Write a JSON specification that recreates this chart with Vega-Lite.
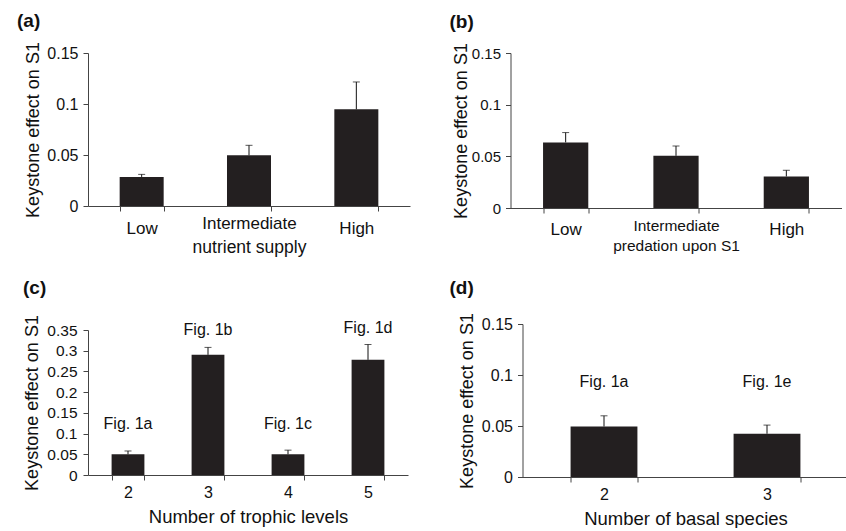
{
  "$schema": "https://vega.github.io/schema/vega-lite/v6.json",
  "padding": {"left": 16, "top": 11, "right": 0, "bottom": 0},
  "background": "white",
  "config": {
    "font": "Liberation Sans",
    "view": {"stroke": null},
    "axis": {"grid": false, "domainColor": "#444", "tickColor": "#444", "labelColor": "#111", "titleColor": "#111", "titleFontWeight": "normal", "labelFont": "Liberation Sans", "titleFont": "Liberation Sans", "tickSize": 5},
    "title": {"font": "Liberation Sans", "fontWeight": "bold", "fontSize": 19, "anchor": "start", "frame": "bounds", "color": "#111"},
    "bar": {"color": "#231f20"},
    "rule": {"color": "#111"},
    "tick": {"color": "#111"}
  },
  "columns": 2,
  "align": "none",
  "spacing": {"row": 22, "column": 38.5},
  "concat": [
    {
      "width": 322, "height": 153,
      "title": {"text": "(a)", "offset": 11, "dx": -7},
      "data": {"values": [
        {"level": "Low", "value": 0.0285, "err": 0.031},
        {"level": "Intermediate", "value": 0.0497, "err": 0.0595},
        {"level": "High", "value": 0.0948, "err": 0.1216}
      ]},
      "encoding": {
        "x": {"field": "level", "type": "nominal", "sort": null,
          "scale": {"paddingInner": 0.59, "paddingOuter": 0.295},
          "axis": {"title": "nutrient supply", "labelAngle": 0, "tickBand": "extent", "labelFontSize": 17,
            "labelPadding": {"condition": {"test": "datum.value === 'Intermediate'", "value": 4}, "value": 9},
            "titleFontSize": 17.5, "titlePadding": 2}},
        "y": {"field": "value", "type": "quantitative", "title": "Keystone effect on S1",
          "scale": {"domain": [0, 0.15], "nice": false},
          "axis": {"values": [0, 0.05, 0.1, 0.15], "format": ".2~f", "labelFontSize": 16, "labelPadding": 5, "titleFontSize": 18, "titleX": -64, "titleBaseline": "top"}}
      },
      "layer": [
        {"mark": "bar"},
        {"mark": {"type": "rule", "strokeWidth": 1}, "encoding": {"y2": {"field": "err"}}},
        {"mark": {"type": "tick", "size": 7, "thickness": 1}, "encoding": {"y": {"field": "err", "type": "quantitative", "title": "Keystone effect on S1"}}}
      ]
    },
    {
      "width": 331, "height": 155,
      "title": {"text": "(b)", "offset": 11, "dx": -3},
      "data": {"values": [
        {"level": "Low", "value": 0.0635, "err": 0.073},
        {"level": "Intermediate", "value": 0.0505, "err": 0.06},
        {"level": "High", "value": 0.0305, "err": 0.0365}
      ]},
      "encoding": {
        "x": {"field": "level", "type": "nominal", "sort": null,
          "scale": {"paddingInner": 0.59, "paddingOuter": 0.295},
          "axis": {"title": "predation upon S1", "labelAngle": 0, "tickBand": "extent",
            "labelFontSize": {"condition": {"test": "datum.value === 'Intermediate'", "value": 15.5}, "value": 17},
            "labelPadding": {"condition": {"test": "datum.value === 'Intermediate'", "value": 5}, "value": 8},
            "titleFontSize": 15.5, "titlePadding": 1}},
        "y": {"field": "value", "type": "quantitative", "title": "Keystone effect on S1",
          "scale": {"domain": [0, 0.15], "nice": false},
          "axis": {"values": [0, 0.05, 0.1, 0.15], "format": ".2~f", "labelFontSize": 15, "labelPadding": 5, "titleFontSize": 18, "titleX": -58, "titleBaseline": "top"}}
      },
      "layer": [
        {"mark": "bar"},
        {"mark": {"type": "rule", "strokeWidth": 1}, "encoding": {"y2": {"field": "err"}}},
        {"mark": {"type": "tick", "size": 7, "thickness": 1}, "encoding": {"y": {"field": "err", "type": "quantitative", "title": "Keystone effect on S1"}}}
      ]
    },
    {
      "width": 320, "height": 153,
      "title": {"text": "(c)", "offset": 17},
      "data": {"values": [
        {"levels": "2", "value": 0.05, "err": 0.058, "note": "Fig. 1a", "note_at": 0.124},
        {"levels": "3", "value": 0.29, "err": 0.308, "note": "Fig. 1b", "note_at": 0.35},
        {"levels": "4", "value": 0.05, "err": 0.06, "note": "Fig. 1c", "note_at": 0.124},
        {"levels": "5", "value": 0.278, "err": 0.315, "note": "Fig. 1d", "note_at": 0.356}
      ]},
      "encoding": {
        "x": {"field": "levels", "type": "ordinal", "sort": null,
          "scale": {"paddingInner": 0.59, "paddingOuter": 0.295},
          "axis": {"title": "Number of trophic levels", "labelAngle": 0, "tickBand": "extent", "labelFontSize": 16, "labelPadding": 4, "titleFontSize": 18.5, "titlePadding": 7}},
        "y": {"field": "value", "type": "quantitative", "title": "Keystone effect on S1",
          "scale": {"domain": [0, 0.35], "nice": false, "range": [153, 8]},
          "axis": {"values": [0, 0.05, 0.1, 0.15, 0.2, 0.25, 0.3, 0.35], "format": ".2~f", "labelFontSize": 15.5, "labelPadding": 6, "titleFontSize": 18, "titleX": -65, "titleBaseline": "top"}}
      },
      "layer": [
        {"mark": "bar"},
        {"mark": {"type": "rule", "strokeWidth": 1}, "encoding": {"y2": {"field": "err"}}},
        {"mark": {"type": "tick", "size": 7, "thickness": 1}, "encoding": {"y": {"field": "err", "type": "quantitative", "title": "Keystone effect on S1"}}},
        {"mark": {"type": "text", "fontSize": 16, "color": "#111", "baseline": "middle", "clip": false}, "encoding": {"y": {"field": "note_at", "type": "quantitative", "title": "Keystone effect on S1"}, "text": {"field": "note"}}}
      ]
    },
    {
      "width": 326, "height": 153,
      "title": {"text": "(d)", "offset": 15, "dx": -9},
      "data": {"values": [
        {"species": "2", "value": 0.0495, "err": 0.06, "note": "Fig. 1a", "note_at": 0.093},
        {"species": "3", "value": 0.0424, "err": 0.0509, "note": "Fig. 1e", "note_at": 0.093}
      ]},
      "encoding": {
        "x": {"field": "species", "type": "ordinal", "sort": null,
          "scale": {"paddingInner": 0.59, "paddingOuter": 0.295},
          "axis": {"title": "Number of basal species", "labelAngle": 0, "tickBand": "extent", "labelFontSize": 16, "labelPadding": 4, "titleFontSize": 18.5, "titlePadding": 7}},
        "y": {"field": "value", "type": "quantitative", "title": "Keystone effect on S1",
          "scale": {"domain": [0, 0.15], "nice": false},
          "axis": {"values": [0, 0.05, 0.1, 0.15], "format": ".2~f", "labelFontSize": 16, "labelPadding": 5, "titleFontSize": 18, "titleX": -64, "titleBaseline": "top"}}
      },
      "layer": [
        {"mark": "bar"},
        {"mark": {"type": "rule", "strokeWidth": 1}, "encoding": {"y2": {"field": "err"}}},
        {"mark": {"type": "tick", "size": 7, "thickness": 1}, "encoding": {"y": {"field": "err", "type": "quantitative", "title": "Keystone effect on S1"}}},
        {"mark": {"type": "text", "fontSize": 16, "color": "#111", "baseline": "middle"}, "encoding": {"y": {"field": "note_at", "type": "quantitative", "title": "Keystone effect on S1"}, "text": {"field": "note"}}}
      ]
    }
  ]
}
